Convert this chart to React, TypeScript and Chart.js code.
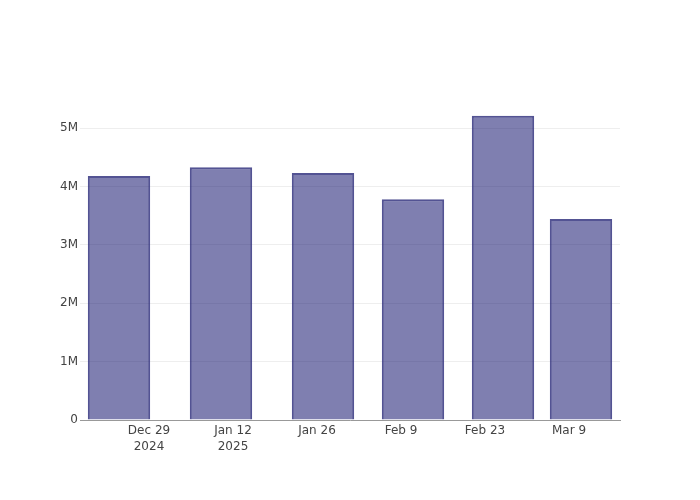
import React, { useEffect, useRef } from "react";
import { Chart, registerables } from "chart.js";

Chart.register(...registerables);

// Days counted from 2024-12-29
const barDays = [-5, 12, 29, 44, 59, 72];
const barValues = [4180000, 4330000, 4230000, 3780000, 5210000, 3440000];
const tickDays = [0, 14, 28, 42, 56, 70];
const tickLabels: (string | string[])[] = [
  ["Dec 29", "2024"],
  ["Jan 12", "2025"],
  "Jan 26",
  "Feb 9",
  "Feb 23",
  "Mar 9",
];
const yTickValues = [0, 1000000, 2000000, 3000000, 4000000, 5000000];
const yTickLabels = ["0", "1M", "2M", "3M", "4M", "5M"];
const xMin = -11.5;
const xMax = 78.5;
const yMax = 5480000;

export default function App() {
  const ref = useRef<HTMLCanvasElement | null>(null);

  useEffect(() => {
    document.body.style.margin = "0";
    const ctx = ref.current;
    if (!ctx) return;
    const font = { family: "'DejaVu Sans', sans-serif", size: 12, lineHeight: 1.3 };
    const chart = new Chart(ctx, {
      type: "bar",
      data: {
        datasets: [
          {
            data: barDays.map((d, i) => ({ x: d, y: barValues[i] })),
            backgroundColor: "rgba(0,0,98,0.5)",
            borderColor: "rgba(40,40,120,0.8)",
            borderWidth: 2,
            categoryPercentage: 0.8,
            barPercentage: 1,
          },
        ],
      },
      options: {
        animation: false,
        responsive: false,
        maintainAspectRatio: false,
        layout: { padding: { left: 0, top: 100, right: 80, bottom: 0 } },
        plugins: { legend: { display: false }, tooltip: { enabled: false } },
        scales: {
          x: {
            type: "linear",
            min: xMin,
            max: xMax,
            offset: false,
            grid: { display: false, offset: false, drawTicks: false },
            border: { display: true, color: "#999", width: 1 },
            afterBuildTicks: (scale: any) => {
              scale.ticks = tickDays.map((v) => ({ value: v }));
            },
            afterFit: (scale: any) => {
              scale.height = 80;
            },
            ticks: {
              autoSkip: false,
              maxRotation: 0,
              color: "#444",
              font,
              padding: 3,
              callback: (v: any) => {
                const i = tickDays.indexOf(Number(v));
                return i >= 0 ? tickLabels[i] : "";
              },
            },
          },
          y: {
            min: 0,
            max: yMax,
            grid: { color: "#eee", drawTicks: false, lineWidth: 1 },
            border: { display: false },
            afterBuildTicks: (scale: any) => {
              scale.ticks = yTickValues.map((v) => ({ value: v }));
            },
            afterFit: (scale: any) => {
              scale.width = 80;
            },
            ticks: {
              autoSkip: false,
              color: "#444",
              font,
              padding: 2,
              callback: (v: any) => {
                const i = yTickValues.indexOf(Number(v));
                return i >= 0 ? yTickLabels[i] : "";
              },
            },
          },
        },
      },
    } as any);
    return () => chart.destroy();
  }, []);

  return (
    <div style={{ width: 700, height: 500, background: "#fff" }}>
      <canvas ref={ref} width={700} height={500} style={{ width: 700, height: 500 }} />
    </div>
  );
}
